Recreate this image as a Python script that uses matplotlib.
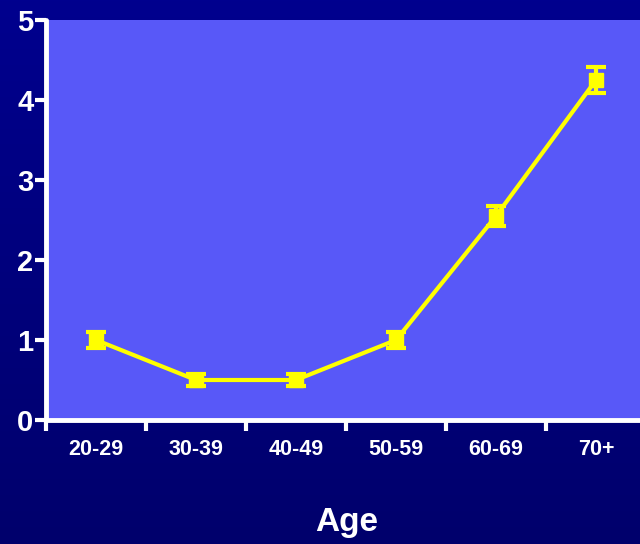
import matplotlib

matplotlib.use("Agg")
import matplotlib.pyplot as plt
import numpy as np

ages = ["20-29", "30-39", "40-49", "50-59", "60-69", "70+"]
values = [1.0, 0.5, 0.5, 1.0, 2.55, 4.25]
errors = [0.1, 0.08, 0.08, 0.1, 0.12, 0.16]

plt.rcParams["font.family"] = ["Liberation Sans", "DejaVu Sans"]
plt.rcParams["font.weight"] = "bold"

fig = plt.figure(figsize=(6.4, 5.44), dpi=100)

# navy background, a little darker towards the bottom
bg = fig.add_axes([0, 0, 1, 1], zorder=-10)
grad = np.linspace(0, 1, 256).reshape(-1, 1)
bg.imshow(grad, aspect="auto", cmap=matplotlib.colors.LinearSegmentedColormap.from_list(
    "navy", ["#00008e", "#00006c"]), extent=[0, 1, 0, 1])
bg.axis("off")

ax = fig.add_axes([46 / 640, 124 / 544, 600 / 640, 400 / 544])
ax.set_facecolor("#5858f8")
x = np.arange(len(ages))
ax.errorbar(x, values, yerr=errors, color="#ffff00", lw=3, marker="s", ms=10,
            elinewidth=3, capsize=7, capthick=3, clip_on=False, zorder=5)

ax.set_xlim(-0.5, 5.5)
ax.set_ylim(0, 5)
ax.set_yticks([0, 1, 2, 3, 4, 5])
ax.set_xticks(np.arange(-0.5, 5.5, 1.0))
ax.set_xticklabels([])
ax.set_xticks(x, minor=True)
ax.set_xticklabels(ages, minor=True, color="white", fontsize=15.5, fontweight="bold")
ax.tick_params(axis="x", which="minor", length=0, pad=14)
ax.tick_params(axis="x", which="major", length=8, width=3, color="white", direction="out")
ax.tick_params(axis="y", length=8, width=3, color="white", direction="out",
               labelcolor="white", labelsize=21, pad=1)
for lab in ax.get_yticklabels():
    lab.set_fontweight("bold")

for side in ["top", "right"]:
    ax.spines[side].set_visible(False)
for side in ["left", "bottom"]:
    ax.spines[side].set_color("white")
    ax.spines[side].set_linewidth(3.5)
    ax.spines[side].set_capstyle("round")

fig.text(347 / 640, 1 - 522 / 544, "Age", color="white", fontsize=24,
         fontweight="bold", ha="center", va="center")

plt.savefig("out.png", dpi=100)
plt.close()
